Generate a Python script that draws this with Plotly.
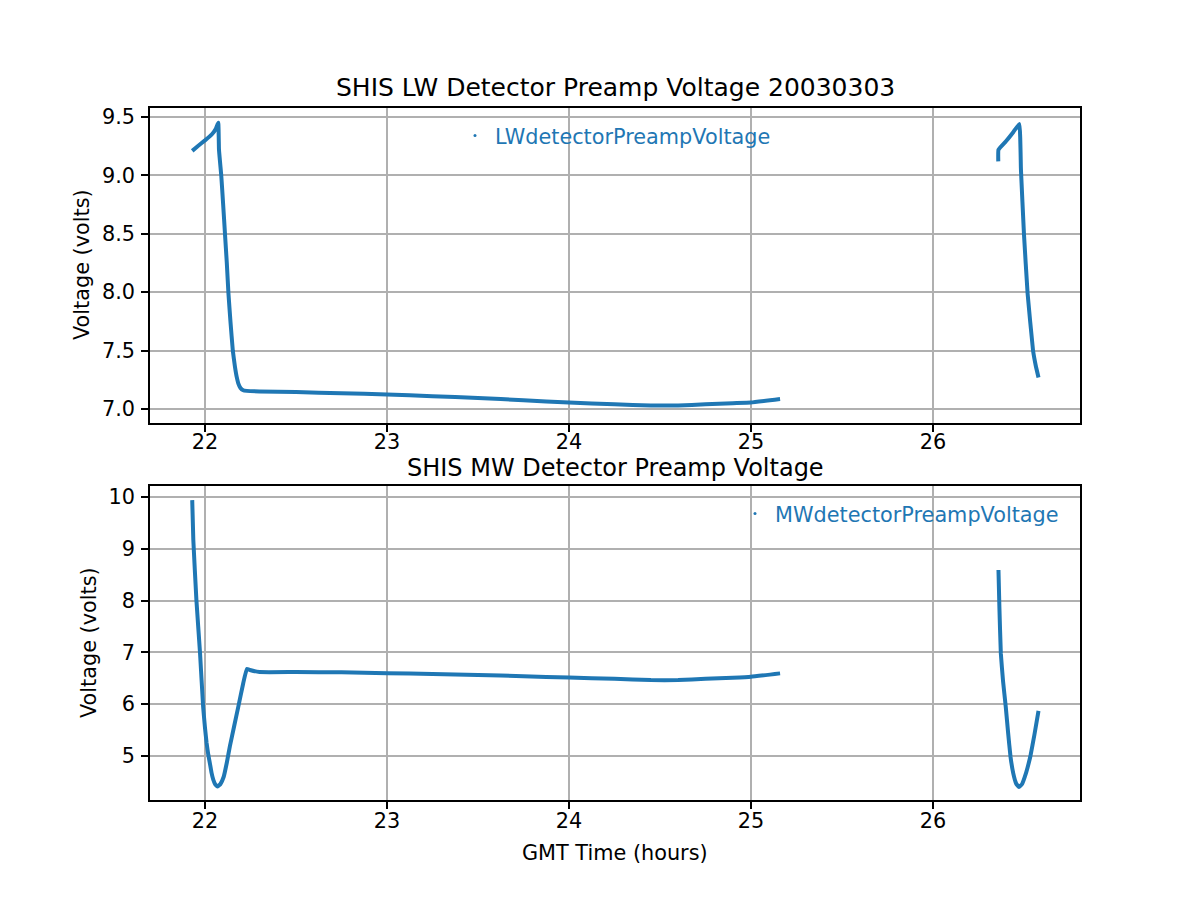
import plotly.graph_objects as go

# ---- data (None separates the two recording periods) ----
lw_time = [21.93, 21.96, 22.00, 22.037, 22.06, 22.073, 22.077, 22.09, 22.10, 22.11, 22.12,
           22.129, 22.14, 22.153, 22.165, 22.175, 22.183, 22.195, 22.21, 22.23, 22.30, 22.50, 22.75,
           23.00, 23.25, 23.50, 23.75, 24.00, 24.25, 24.45, 24.60, 24.75, 24.90, 25.00, 25.16,
           None,
           26.359, 26.360, 26.40, 26.441, 26.4747, 26.4835, 26.50, 26.52, 26.55, 26.565, 26.58]
lw_volts = [9.21, 9.25, 9.30, 9.35, 9.40, 9.45, 9.22, 8.99, 8.75, 8.50, 8.25,
            7.99, 7.75, 7.50, 7.36, 7.27, 7.22, 7.18, 7.16, 7.155, 7.15, 7.145, 7.135,
            7.125, 7.11, 7.095, 7.075, 7.055, 7.04, 7.03, 7.03, 7.04, 7.05, 7.055, 7.085,
            None,
            9.12, 9.22, 9.29, 9.37, 9.44, 9.05, 8.50, 7.99, 7.50, 7.37, 7.27]

mw_time = [21.93, 21.936, 21.953, 21.973, 21.99, 22.00, 22.009, 22.018, 22.027, 22.036, 22.046,
           22.057, 22.07, 22.085, 22.103, 22.12, 22.137, 22.16, 22.183, 22.21, 22.23, 22.247,
           22.30, 22.50, 22.75, 23.00, 23.25, 23.50, 23.75, 24.00, 24.25, 24.45, 24.60, 24.75,
           24.90, 25.00, 25.16,
           None,
           26.36, 26.365, 26.373, 26.385, 26.40, 26.413, 26.426, 26.441, 26.457, 26.473, 26.49,
           26.505, 26.52, 26.535, 26.558, 26.58]
mw_volts = [9.94, 9.17, 8.01, 6.98, 5.95, 5.55, 5.25, 5.03, 4.86, 4.68, 4.54,
            4.45, 4.41, 4.46, 4.60, 4.87, 5.19, 5.57, 5.95, 6.40, 6.68, 6.66,
            6.62, 6.62, 6.615, 6.60, 6.585, 6.565, 6.54, 6.515, 6.49, 6.465, 6.465, 6.49,
            6.51, 6.53, 6.595,
            None,
            8.59, 7.88, 6.98, 6.45, 5.95, 5.45, 4.99, 4.67, 4.47, 4.40, 4.46,
            4.60, 4.78, 4.99, 5.42, 5.87]

x_ticks = [22, 23, 24, 25, 26]
lw_yticks = [7.0, 7.5, 8.0, 8.5, 9.0, 9.5]
mw_yticks = [5, 6, 7, 8, 9, 10]

title_top = "SHIS LW Detector Preamp Voltage 20030303"
title_bottom = "SHIS MW Detector Preamp Voltage"
lw_name = "LWdetectorPreampVoltage"
mw_name = "MWdetectorPreampVoltage"

BLUE = "#1f77b4"
FONT = "DejaVu Sans"
OFF = 8  # page body offset in the browser
W, H = 1200, 900
ML, MT = 150 - OFF, 108 - OFF
MR = W - (1080 - OFF)
MB = H - (800 - OFF)
PW = W - ML - MR
PH = H - MT - MB


def py(pix):  # page pixel row -> paper fraction
    return (H - MB - (pix - OFF)) / PH


def px(pix):  # page pixel column -> paper fraction
    return (pix - OFF - ML) / PW


fig = go.Figure()
fig.add_trace(go.Scatter(x=lw_time, y=lw_volts, mode="lines",
                         line=dict(color=BLUE, width=4, shape="spline", smoothing=0.3),
                         connectgaps=False, showlegend=False, xaxis="x", yaxis="y"))
fig.add_trace(go.Scatter(x=[None], y=[None], mode="markers", name=lw_name,
                         marker=dict(color=BLUE, size=3), legend="legend", xaxis="x", yaxis="y"))
fig.add_trace(go.Scatter(x=mw_time, y=mw_volts, mode="lines",
                         line=dict(color=BLUE, width=4, shape="spline", smoothing=0.3),
                         connectgaps=False, showlegend=False, xaxis="x2", yaxis="y2"))
fig.add_trace(go.Scatter(x=[None], y=[None], mode="markers", name=mw_name,
                         marker=dict(color=BLUE, size=3), legend="legend2", xaxis="x2", yaxis="y2"))

axis_common = dict(showline=True, linecolor="black", linewidth=1.6, mirror=True,
                   ticks="outside", ticklen=7, tickwidth=1.6, tickcolor="black",
                   showgrid=True, gridcolor="#b0b0b0", gridwidth=1.6, zeroline=False,
                   tickfont=dict(family=FONT, size=20.8, color="black"))

fig.update_layout(
    width=W, height=H,
    margin=dict(l=ML, r=MR, t=MT, b=MB),
    paper_bgcolor="white", plot_bgcolor="white",
    font=dict(family=FONT, size=20.8, color="black"),
    xaxis=dict(domain=[0, 1], anchor="y", range=[21.698, 26.808], tickvals=x_ticks,
               ticktext=[str(v) for v in x_ticks], ticklabelstandoff=-8, **axis_common),
    yaxis=dict(domain=[py(423), 1], anchor="x", range=[6.880, 9.577], tickvals=lw_yticks,
               ticktext=[f"{v:.1f}" for v in lw_yticks], ticklabelstandoff=2, **axis_common),
    xaxis2=dict(domain=[0, 1], anchor="y2", range=[21.698, 26.808], tickvals=x_ticks,
                ticktext=[str(v) for v in x_ticks], ticklabelstandoff=-6, **axis_common),
    yaxis2=dict(domain=[0, py(486)], anchor="x2", range=[4.151, 10.212], tickvals=mw_yticks,
                ticktext=[str(v) for v in mw_yticks], ticklabelstandoff=2, **axis_common),
    legend=dict(x=px(455), y=py(136), xanchor="left", yanchor="middle",
                bgcolor="rgba(0,0,0,0)", borderwidth=0,
                font=dict(family=FONT, size=20.8, color=BLUE)),
    legend2=dict(x=px(735), y=py(514), xanchor="left", yanchor="middle",
                 bgcolor="rgba(0,0,0,0)", borderwidth=0,
                 font=dict(family=FONT, size=20.8, color=BLUE)),
    annotations=[
        dict(text=title_top, x=0.5, y=py(87), xref="paper", yref="paper", showarrow=False,
             xanchor="center", yanchor="middle", font=dict(family=FONT, size=25, color="black")),
        dict(text=title_bottom, x=0.5, y=py(468), xref="paper", yref="paper", showarrow=False,
             xanchor="center", yanchor="middle", font=dict(family=FONT, size=24, color="black")),
        dict(text="Voltage (volts)", x=px(82), y=py(265), xref="paper", yref="paper",
             showarrow=False, textangle=-90, xanchor="center", yanchor="middle",
             font=dict(family=FONT, size=20.8, color="black")),
        dict(text="Voltage (volts)", x=px(89), y=py(643), xref="paper", yref="paper",
             showarrow=False, textangle=-90, xanchor="center", yanchor="middle",
             font=dict(family=FONT, size=20.8, color="black")),
        dict(text="GMT Time (hours)", x=0.5, y=py(853), xref="paper", yref="paper",
             showarrow=False, xanchor="center", yanchor="middle",
             font=dict(family=FONT, size=20.8, color="black")),
    ],
)

fig.write_html("out.html")
